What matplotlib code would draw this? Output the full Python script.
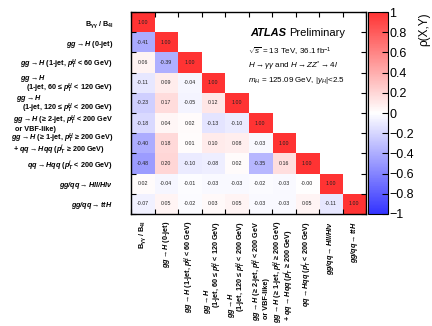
import numpy as np
import matplotlib
matplotlib.use("Agg")
import matplotlib.pyplot as plt
from matplotlib.colors import LinearSegmentedColormap

plt.rcParams['font.family'] = ['Liberation Sans', 'DejaVu Sans']
plt.rcParams['mathtext.fontset'] = 'custom'
plt.rcParams['mathtext.rm'] = 'Liberation Sans'
plt.rcParams['mathtext.it'] = 'Liberation Sans:italic'
plt.rcParams['mathtext.bf'] = 'Liberation Sans:bold'
plt.rcParams['mathtext.bfit'] = 'Liberation Sans:bold:italic'

# etykiety binow (wiersze od gory, kolumny od lewej)
labels = [
    r"B$_{\mathbf{\gamma\gamma}}$ / B$_{\mathbf{4l}}$",
    r"$\mathbfit{gg\rightarrow H}$ (0-jet)",
    r"$\mathbfit{gg\rightarrow H}$ (1-jet, $\mathbfit{p}_{\mathbfit{T}}^{\mathbfit{H}}$ < 60 GeV)",
    "$\\mathbfit{gg\\rightarrow H}$\n   (1-jet, 60 \u2264 $\\mathbfit{p}_{\\mathbfit{T}}^{\\mathbfit{H}}$ < 120 GeV)",
    "$\\mathbfit{gg\\rightarrow H}$\n   (1-jet, 120 \u2264 $\\mathbfit{p}_{\\mathbfit{T}}^{\\mathbfit{H}}$ < 200 GeV)",
    "$\\mathbfit{gg\\rightarrow H}$ (\u2265 2-jet, $\\mathbfit{p}_{\\mathbfit{T}}^{\\mathbfit{H}}$ < 200 GeV\n or VBF-like)",
    "$\\mathbfit{gg\\rightarrow H}$ (\u2265 1-jet, $\\mathbfit{p}_{\\mathbfit{T}}^{\\mathbfit{H}}$ \u2265 200 GeV)\n + $\\mathbfit{qq\\rightarrow Hqq}$ ($\\mathbfit{p}_{\\mathbfit{T}}^{\\mathbfit{j}}$ \u2265 200 GeV)",
    r"$\mathbfit{qq\rightarrow Hqq}$ ($\mathbfit{p}_{\mathbfit{T}}^{\mathbfit{j}}$ < 200 GeV)",
    r"$\mathbfit{gg/qq\rightarrow Hll/Hl\nu}$",
    r"$\mathbfit{gg/qq\rightarrow ttH}$",
]

# dolny trojkat macierzy korelacji
rows = [
    [1.00],
    [-0.41, 1.00],
    [0.06, -0.39, 1.00],
    [-0.11, 0.09, -0.04, 1.00],
    [-0.23, 0.17, -0.05, 0.12, 1.00],
    [-0.18, 0.04, 0.02, -0.13, -0.10, 1.00],
    [-0.40, 0.18, 0.01, 0.10, 0.08, -0.03, 1.00],
    [-0.48, 0.20, -0.10, -0.08, 0.02, -0.35, 0.16, 1.00],
    [0.02, -0.04, -0.01, -0.03, -0.03, -0.02, -0.03, -0.00, 1.00],
    [-0.07, 0.05, -0.02, 0.03, 0.05, -0.03, -0.03, 0.05, -0.11, 1.00],
]

n = len(labels)
C = np.full((n, n), np.nan)
for i, r in enumerate(rows):
    C[i, :len(r)] = r

cmap = LinearSegmentedColormap.from_list(
    "bwr_root", [(0.2, 0.2, 1.0), (1.0, 1.0, 1.0), (1.0, 0.2, 0.2)])

fig = plt.figure(figsize=(4.32, 3.26), dpi=100)
ax = fig.add_axes([131/432, 1-214/326, 235/432, 202/326])
cax = fig.add_axes([368/432, 1-214/326, 20/432, 202/326])

im = ax.imshow(np.ma.masked_invalid(C), cmap=cmap, vmin=-1, vmax=1,
               aspect='auto', interpolation='nearest')

for i in range(n):
    for j in range(i + 1):
        ax.text(j, i, f"{C[i, j]:.2f}", ha='center', va='center',
                fontsize=3.8, color='#222222')

ax.set_xlim(-0.5, n - 0.5)
ax.set_ylim(n - 0.5, -0.5)
ax.set_xticks(np.arange(n))
ax.set_yticks(np.arange(n))
ax.set_xticklabels(labels, rotation=90, fontsize=5.2, fontweight='bold',
                   multialignment='left', linespacing=0.72)
ax.set_yticklabels(labels, fontsize=5.2, fontweight='bold',
                   multialignment='left', linespacing=0.72)
ax.tick_params(axis='x', which='major', length=0, pad=5)
ax.tick_params(axis='y', which='major', length=0, pad=13)
ax.set_xticks(np.arange(-0.5, n, 1), minor=True)
ax.set_yticks(np.arange(-0.5, n, 1), minor=True)
ax.tick_params(which='minor', direction='in', length=3.5, width=0.8,
               top=True, right=True, bottom=True, left=True)
for s in ax.spines.values():
    s.set_linewidth(1.0)

cb = fig.colorbar(im, cax=cax)
cb.set_ticks(np.arange(-1, 1.01, 0.2))
cb.set_ticklabels(["\u22121", "\u22120.8", "\u22120.6", "\u22120.4", "\u22120.2",
                   "0", "0.2", "0.4", "0.6", "0.8", "1"])
cax.tick_params(direction='in', length=4, width=0.8, labelsize=9, pad=1)
cb.outline.set_linewidth(0.8)
fig.text(0.982, 1-12/326, "\u03c1(X,Y)", rotation=90, ha='center', va='top',
         fontsize=8.5)

# opis ATLAS
t = fig.text(250/432, 1-33/326, "ATLAS ", fontsize=8, fontweight='bold',
             style='italic', va='center')
fig.canvas.draw()
bb = t.get_window_extent().transformed(fig.transFigure.inverted())
fig.text(bb.x1, 1-33/326, "Preliminary", fontsize=8, va='center')
fig.text(248/432, 1-52/326, r"$\sqrt{s}$ = 13 TeV, 36.1 fb$^{-1}$",
         fontsize=5.8, va='center')
fig.text(248/432, 1-66/326, r"$H\rightarrow\gamma\gamma$ and $H\rightarrow ZZ^{*}\rightarrow 4l$",
         fontsize=5.8, va='center')
fig.text(248/432, 1-80/326, r"$m_{H}$ = 125.09 GeV, $|y_{H}|$<2.5",
         fontsize=5.8, va='center')

fig.savefig("out.png", dpi=100)
